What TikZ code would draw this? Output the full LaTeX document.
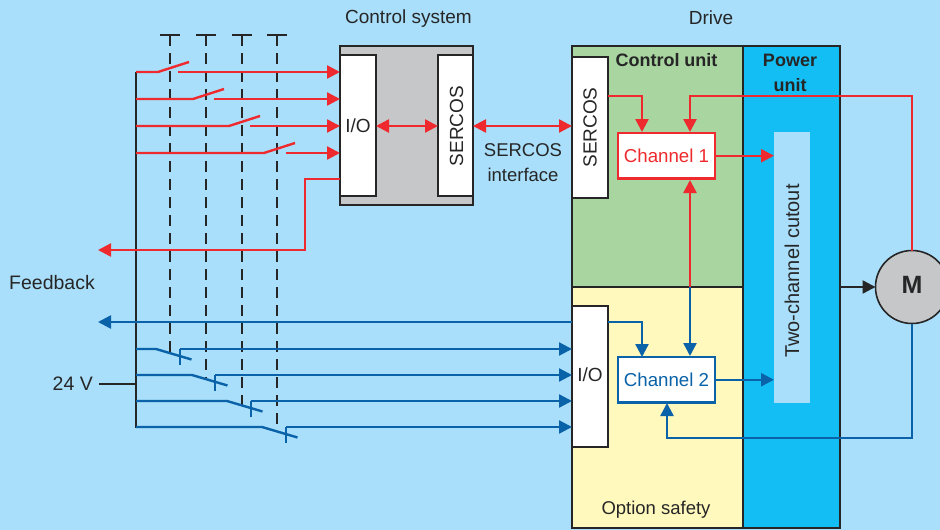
\documentclass[tikz,border=0pt]{standalone}
\usepackage{xcolor}
\usepackage{fontspec}
\setmainfont{Liberation Sans}
\usetikzlibrary{calc,arrows.meta}
\definecolor{bgblue}{HTML}{A9DFFB}
\definecolor{sred}{HTML}{EE2A2E}
\definecolor{sblue}{HTML}{0A62A8}
\definecolor{ink}{HTML}{262626}
\definecolor{ctrlgreen}{HTML}{A8D5A0}
\definecolor{optyellow}{HTML}{FFF9BE}
\definecolor{powblue}{HTML}{13BEF4}
\definecolor{steel}{HTML}{C6C7C9}
\tikzset{
    lbl/.style={font=\fontsize{19}{22}\selectfont,text=ink,inner sep=0pt},
    boldlbl/.style={lbl,font=\fontsize{18}{25}\selectfont\bfseries},
    anybox/.style={inner sep=0pt,outer sep=0pt,anchor=north west},
    whitebox/.style={anybox,draw=ink,fill=white,line width=1.6pt,minimum width=36pt,minimum height=141pt},
    frame/.style={anybox,draw=ink,line width=2.4pt},
    chanbox/.style={anybox,fill=white,line width=2.2pt,minimum width=97pt,minimum height=45.5pt,font=\fontsize{18.7}{22}\selectfont},
    redline/.style={draw=sred,line width=2.4pt},
    blueline/.style={draw=sblue,line width=2.4pt},
    redarrow/.style={redline,-{Triangle[length=13pt,width=13pt]}},
    bluearrow/.style={blueline,-{Triangle[length=13pt,width=13pt]}},
    redboth/.style={redline,{Triangle[length=13pt,width=13pt]}-{Triangle[length=13pt,width=13pt]}},
    rail/.style={draw=ink,line width=2.4pt},
    linkage/.style={draw=ink,line width=2.4pt,dash pattern=on 11pt off 7pt},
}
\begin{document}
\begin{tikzpicture}[x=1pt,y=-1pt]
    \useasboundingbox (0,0) rectangle (940,530);
    \fill[bgblue] (0,0) rectangle (940,530);
    % control system
    \node[frame,fill=steel,line width=1.6pt,minimum width=133pt,minimum height=159pt] (ctrlsys) at (340,46) {};
    \node[whitebox] (sysio) at (340,55) {};
    \node[whitebox,minimum width=35pt] (syssercos) at (438,55) {};
    \node[lbl] at (sysio.center) {I/O};
    \node[lbl,rotate=90] at (456.5,126) {SERCOS};
    \node[lbl] (ctrltitle) at (408.5,19) {Control system};
    \node[lbl] (drivetitle) at (711,18) {Drive};
    % drive
    \node[frame,fill=ctrlgreen,minimum width=171pt,minimum height=241pt] (ctrlunit) at (572,46) {};
    \node[frame,fill=optyellow,minimum width=171pt,minimum height=241pt] (optsafe) at (572,287) {};
    \node[frame,fill=powblue,minimum width=97pt,minimum height=482pt] (powunit) at (743,46) {};
    \node[boldlbl] (ctrllbl) at (666.5,60) {Control unit};
    \node[boldlbl,align=center] (powlbl) at (790,72.5) {Power\\unit};
    \node[lbl,font=\fontsize{18.5}{22}\selectfont] (optlbl) at (656,510) {Option safety};
    \node[whitebox] (drvsercos) at (572,57) {};
    \node[lbl,rotate=90] at (drvsercos.center) {SERCOS};
    \node[whitebox] (drvio) at (572,306) {};
    \node[lbl] at (590,375) {I/O};
    \node[anybox,fill=bgblue,minimum width=36pt,minimum height=271pt] (cutout) at (774,132) {};
    \node[lbl,rotate=90,font=\fontsize{20}{22}\selectfont] at (792,271) {Two-channel cutout};
    \node[chanbox,draw=sred,text=sred] (chone) at (618,133) {Channel 1};
    \node[chanbox,draw=sblue,text=sblue] (chtwo) at (618,357) {Channel 2};
    \node[circle,draw=ink,fill=steel,line width=1.6pt,minimum size=73pt,inner sep=0pt,outer sep=0pt] (motor) at (912,287) {};
    \node[lbl,font=\fontsize{25}{28}\selectfont\bfseries] at (912,285) {M};
    \node[lbl,align=center,font=\fontsize{18.5}{25}\selectfont] (iflbl) at (523,163) {SERCOS\\interface};
    \node[lbl,font=\fontsize{19.5}{22}\selectfont] (fblbl) at (52,283) {Feedback};
    \node[lbl,anchor=east,font=\fontsize{19.5}{22}\selectfont] (vlbl) at (93,384) {24 V};
    % links inside the drive
    \coordinate (sysport) at (340,126);
    \draw[redboth] (sysio.east |- sysport) -- (syssercos.west |- sysport);
    \draw[redboth] (syssercos.east |- sysport) -- (drvsercos.west |- sysport);
    \draw[redarrow] (drvsercos.east |- 0,96) -| (642,132);
    \draw[redarrow] (motor.north) |- (690,96) -- (690,132);
    \draw[redarrow] (chone.east) -- (cutout.west |- chone.east);
    \draw[bluearrow] (drvio.east |- 0,322) -| (642,357);
    \draw[bluearrow] (motor.south) |- (667,438) -- (667,403);
    \draw[bluearrow] (chtwo.east) -- (cutout.west |- chtwo.east);
    \draw[rail,-{Triangle[length=13pt,width=13pt]}] (powunit.east |- motor.west) -- (motor.west);
    \draw[redline,{Triangle[length=13pt,width=13pt]}-] (690,180) coordinate (ptop) -- (690,287) coordinate (pmid);
    \draw[bluearrow] (pmid) -- (690,356);
    % supply and linkages
    \draw[rail] (136,72) coordinate (railtop) -- (136,428) coordinate (railbot);
    \draw[rail] (vlbl.east) ++(6,0) coordinate (vend) -- (vend -| railtop);
    \foreach \xx/\yend in {170/353,206/378,242/405,277/432} {
        \draw[rail] (\xx-10,35) -- (\xx+10,35);
        \draw[linkage] (\xx,35) -- (\xx,\yend);
    }
    % red inputs
    \foreach \yy/\xa/\xb in {72/158/178,99/193/214,126/229/250,153/264/286} {
        \draw[redline] (railtop |- 0,\yy) -- (\xa,\yy) -- (\xa+31,\yy-10);
        \draw[redarrow] (\xb,\yy) -- (sysio.west |- 0,\yy);
    }
    \draw[redarrow] (sysio.west |- 0,179) -| (305,250) -- (98,250);
    % blue inputs
    \draw[bluearrow] (drvio.west |- 0,322) -- (98,322);
    \foreach \yy/\xa/\xb in {349/156/180,375/192/215,401/227/251,427/262/286} {
        \draw[blueline] (railtop |- 0,\yy) -- (\xa,\yy) -- (\xa+35.5,\yy+10.5);
        \draw[blueline] (\xb,\yy+16) -- (\xb,\yy);
        \draw[bluearrow] (\xb,\yy) -- (drvio.west |- 0,\yy);
    }
\end{tikzpicture}
\end{document}
